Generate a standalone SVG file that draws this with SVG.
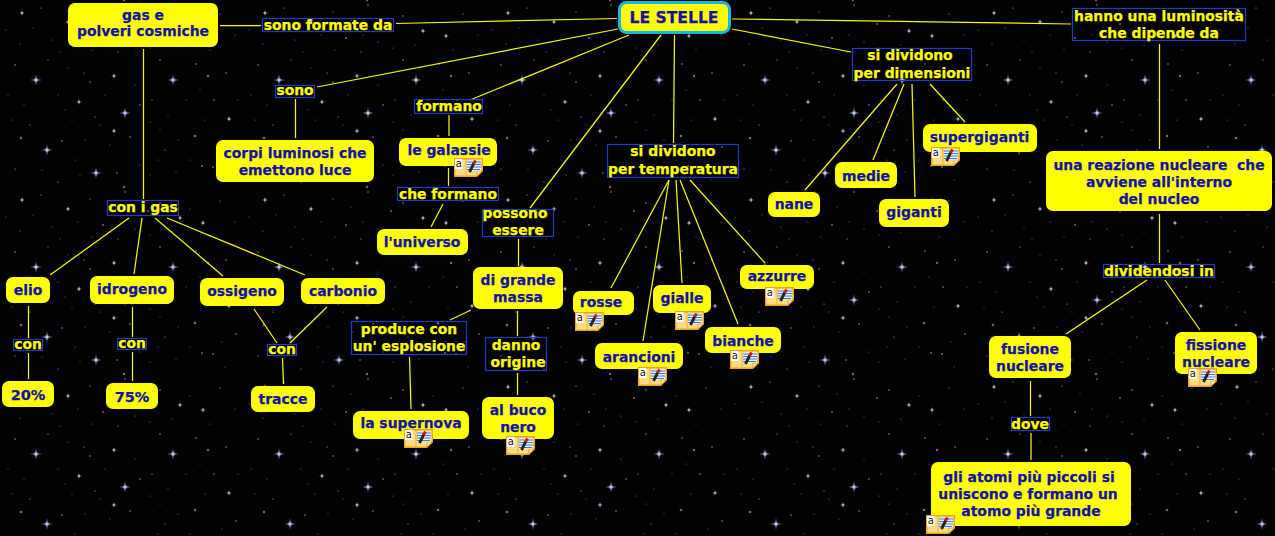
<svg xmlns="http://www.w3.org/2000/svg" width="1275" height="536" viewBox="0 0 1275 536">
<style>
text{font-family:"DejaVu Sans","Liberation Sans",sans-serif;font-weight:700;font-size:13.9px;text-anchor:middle;stroke-width:.25px}
.n rect{fill:#ffff00;stroke:none}
.n text{fill:#1212a8;stroke:#1212a8}
.l rect{fill:none;stroke:#1f3cc4;stroke-width:1.2}
.l text{fill:#ffff00;stroke:#ffff00}
#connectors line{stroke:#f6f600;stroke-width:1.25;fill:none}
.d{fill:#77778a}.e{fill:#a8a8b8}.r{fill:#8e5a60}
</style>
<defs>
<radialGradient id="glow"><stop offset="0" stop-color="#fff"/><stop offset=".4" stop-color="#b8c8ff" stop-opacity=".65"/><stop offset="1" stop-color="#7088ff" stop-opacity="0"/></radialGradient>
<g id="st"><circle r="3" fill="url(#glow)"/><path d="M0-6 .5-.5 6 0 .5.5 0 6-.5.5-6 0-.5-.5Z" fill="#c4d0ff"/></g>
<g id="sm"><circle r="1.4" fill="#d0d0dc" fill-opacity=".8"/><path d="M0-3.5.3-.3 3.5 0 .3.3 0 3.5-.3.3-3.5 0-.3-.3Z" fill="#9c9cac"/></g>
<pattern id="sky" width="243" height="187" patternUnits="userSpaceOnUse">
<rect width="243" height="187" fill="#020204"/>
<use href="#st" x="36" y="80"/><use href="#st" x="173" y="80"/><use href="#st" x="125" y="113"/><use href="#st" x="47" y="150"/><use href="#st" x="96" y="173"/>
<use href="#sm" x="79" y="102"/><use href="#sm" x="114" y="76"/><use href="#sm" x="229" y="119"/><use href="#sm" x="180" y="31"/><use href="#sm" x="22" y="13"/><use href="#sm" x="114" y="131"/><use href="#sm" x="203" y="36"/><use href="#sm" x="68" y="22"/>
<g class="r"><circle cx="21" cy="138" r="1.3"/><circle cx="195" cy="136" r="1.3"/><circle cx="124" cy="187" r="1.2"/><circle cx="124" cy="0" r="1.2"/><circle cx="208" cy="76" r="1.2"/><circle cx="202" cy="166" r="1"/><circle cx="103" cy="38" r="1"/><circle cx="148" cy="24" r="1"/></g>
<g class="e"><circle cx="15" cy="65" r=".7"/><circle cx="48" cy="60" r=".6"/><circle cx="84" cy="73" r=".6"/><circle cx="90" cy="82" r=".7"/><circle cx="118" cy="52" r=".6"/><circle cx="140" cy="105" r=".7"/><circle cx="152" cy="100" r=".6"/><circle cx="160" cy="60" r=".7"/><circle cx="196" cy="64" r=".7"/><circle cx="226" cy="73" r=".7"/><circle cx="214" cy="100" r=".7"/><circle cx="30" cy="125" r=".6"/><circle cx="62" cy="141" r=".7"/><circle cx="95" cy="117" r=".6"/><circle cx="130" cy="137" r=".7"/><circle cx="165" cy="150" r=".6"/><circle cx="236" cy="147" r=".7"/><circle cx="213" cy="167" r=".8"/><circle cx="15" cy="169" r=".6"/><circle cx="58" cy="182" r=".6"/><circle cx="117" cy="173" r=".7"/><circle cx="41" cy="8" r=".6"/><circle cx="90" cy="12" r=".6"/><circle cx="125" cy="5" r=".7"/><circle cx="160" cy="16" r=".7"/><circle cx="220" cy="14" r=".6"/></g>
<g class="d"><circle cx="6" cy="30" r=".5"/><circle cx="20" cy="44" r=".6"/><circle cx="33" cy="28" r=".5"/><circle cx="52" cy="40" r=".5"/><circle cx="60" cy="52" r=".5"/><circle cx="78" cy="35" r=".5"/><circle cx="92" cy="50" r=".5"/><circle cx="108" cy="20" r=".5"/><circle cx="120" cy="35" r=".5"/><circle cx="135" cy="42" r=".6"/><circle cx="150" cy="48" r=".5"/><circle cx="172" cy="45" r=".5"/><circle cx="190" cy="22" r=".5"/><circle cx="210" cy="50" r=".5"/><circle cx="235" cy="35" r=".5"/><circle cx="8" cy="95" r=".5"/><circle cx="24" cy="105" r=".5"/><circle cx="58" cy="95" r=".5"/><circle cx="65" cy="110" r=".5"/><circle cx="72" cy="120" r=".5"/><circle cx="105" cy="95" r=".5"/><circle cx="110" cy="145" r=".5"/><circle cx="100" cy="125" r=".5"/><circle cx="150" cy="122" r=".5"/><circle cx="160" cy="130" r=".5"/><circle cx="168" cy="115" r=".5"/><circle cx="186" cy="100" r=".5"/><circle cx="205" cy="120" r=".5"/><circle cx="238" cy="100" r=".5"/><circle cx="42" cy="170" r=".5"/><circle cx="75" cy="160" r=".5"/><circle cx="80" cy="175" r=".5"/><circle cx="140" cy="165" r=".5"/><circle cx="150" cy="175" r=".5"/><circle cx="158" cy="160" r=".5"/><circle cx="176" cy="172" r=".5"/><circle cx="190" cy="160" r=".5"/><circle cx="225" cy="180" r=".5"/><circle cx="12" cy="120" r=".5"/><circle cx="85" cy="140" r=".5"/><circle cx="135" cy="85" r=".5"/><circle cx="200" cy="90" r=".5"/><circle cx="222" cy="155" r=".5"/><circle cx="178" cy="140" r=".5"/><circle cx="68" cy="68" r=".5"/></g>
</pattern>
<g id="note">
<path d="M.7.7H28.3V13L22.8 18.3H.7Z" fill="#fddc84" stroke="#eea41c" stroke-width="1.4"/>
<path d="M23 18V13H28Z" fill="#fff2c0" stroke="#eea41c"/>
<path d="M12 1V18" stroke="#eea41c" stroke-width=".8"/>
<rect x="1" y="1" width="7.5" height="10" fill="#fff"/>
<rect x="13" y="2.500" width="14" height="10" fill="#eef4ff"/>
<path d="M13 4H27M13 6.500H27M13 9H27M13 11.500H26" stroke="#3a78d8" stroke-width="1.100" fill="none"/>
<path d="M15.500 14 20 5" stroke="#2a2418" stroke-width="2.800"/>
<path d="M19.500 6 21.500 2.500" stroke="#b82020" stroke-width="2.800"/>
<text x="4.700" y="9" style="font-size:10px;font-weight:400;stroke:none;fill:#101010">a</text>
</g>
</defs>
<rect id="background" width="1275" height="536" fill="url(#sky)"/>
<g id="connectors">
<line x1="220" y1="25.5" x2="261" y2="25.5"/><line x1="396" y1="23.5" x2="617" y2="18.5"/>
<line x1="317" y1="87" x2="618" y2="29"/><line x1="629" y1="35" x2="470" y2="100"/>
<line x1="661" y1="35" x2="530" y2="208"/><line x1="674.5" y1="35" x2="673.5" y2="143"/>
<line x1="732" y1="29" x2="851" y2="52"/><line x1="732" y1="19" x2="1071" y2="24"/>
<line x1="295.5" y1="99" x2="295.5" y2="138"/><line x1="449" y1="115" x2="449" y2="136"/>
<line x1="448.5" y1="168" x2="448.5" y2="186"/><line x1="443" y1="204" x2="431" y2="227"/>
<line x1="518.5" y1="239" x2="518.5" y2="266"/><line x1="471" y1="310" x2="450" y2="320"/>
<line x1="517.5" y1="311" x2="517.5" y2="336"/><line x1="517.5" y1="373" x2="517.5" y2="395"/>
<line x1="409.5" y1="357" x2="411" y2="409"/>
<line x1="143.5" y1="49" x2="143.5" y2="199"/>
<line x1="129" y1="218" x2="50" y2="275"/><line x1="142" y1="218" x2="134" y2="274"/>
<line x1="155" y1="218" x2="223" y2="276"/><line x1="167" y1="218" x2="305" y2="275"/>
<line x1="28.5" y1="306" x2="28.5" y2="338"/><line x1="28.5" y1="353" x2="28.5" y2="379"/>
<line x1="132.5" y1="307" x2="132.5" y2="337"/><line x1="132.5" y1="352" x2="132.5" y2="381"/>
<line x1="254" y1="309" x2="277" y2="343"/><line x1="327" y1="307" x2="290" y2="343"/><line x1="282.5" y1="358" x2="283.5" y2="384"/>
<line x1="669" y1="180" x2="611" y2="288"/><line x1="669" y1="180" x2="643" y2="341"/>
<line x1="676" y1="180" x2="682" y2="283"/><line x1="680" y1="180" x2="738" y2="324"/><line x1="690" y1="180" x2="765" y2="263"/>
<line x1="897" y1="84" x2="805" y2="190"/><line x1="904" y1="84" x2="873" y2="160"/>
<line x1="912" y1="84" x2="915" y2="197"/><line x1="930" y1="84" x2="965" y2="122"/>
<line x1="1159.5" y1="44" x2="1159.5" y2="149"/><line x1="1159.5" y1="214" x2="1159.5" y2="263"/>
<line x1="1147" y1="280" x2="1066" y2="334"/><line x1="1165" y1="280" x2="1200" y2="330"/>
<line x1="1030.5" y1="381" x2="1030.5" y2="416"/><line x1="1031" y1="433" x2="1031" y2="460"/>
</g>
<g id="n-stelle" class="n"><rect x="619.5" y="2.5" width="110" height="30" rx="7" style="stroke:#14b8e0;stroke-width:3"/><text x="674" y="23" style="font-size:15.6px">LE STELLE</text></g>
<g id="n-gas" class="n"><rect x="68" y="3" width="150" height="44" rx="7"/><text x="143" y="20">gas e</text><text x="143" y="36">polveri cosmiche</text></g>
<g id="n-corpi" class="n"><rect x="216" y="140" width="158" height="42" rx="7"/><text x="295" y="158">corpi luminosi che</text><text x="295" y="175">emettono luce</text></g>
<g id="n-galassie" class="n"><rect x="399" y="138" width="98" height="28" rx="7"/><text x="449" y="155">le galassie</text><use href="#note" x="454" y="158"/></g>
<g id="n-universo" class="n"><rect x="377" y="229" width="91" height="26" rx="7"/><text x="422" y="247">l'universo</text></g>
<g id="n-elio" class="n"><rect x="6" y="277" width="44" height="26" rx="7"/><text x="28" y="295">elio</text></g>
<g id="n-idrogeno" class="n"><rect x="90" y="276" width="84" height="28" rx="7"/><text x="132" y="294">idrogeno</text></g>
<g id="n-ossigeno" class="n"><rect x="200" y="278" width="84" height="28" rx="7"/><text x="242" y="296">ossigeno</text></g>
<g id="n-carbonio" class="n"><rect x="301" y="278" width="84" height="26" rx="7"/><text x="343" y="296">carbonio</text></g>
<g id="n-20" class="n"><rect x="2" y="381" width="52" height="26" rx="7"/><text x="28" y="400" style="font-size:14.5px">20%</text></g>
<g id="n-75" class="n"><rect x="106" y="383" width="52" height="26" rx="7"/><text x="132" y="402" style="font-size:14.5px">75%</text></g>
<g id="n-tracce" class="n"><rect x="251" y="386" width="64" height="26" rx="7"/><text x="283" y="404">tracce</text></g>
<g id="n-massa" class="n"><rect x="473" y="267" width="90" height="42" rx="7"/><text x="518" y="285">di grande</text><text x="518" y="302">massa</text></g>
<g id="n-supernova" class="n"><rect x="353" y="411" width="116" height="28" rx="7"/><text x="411" y="428">la supernova</text><use href="#note" x="404" y="429"/></g>
<g id="n-buco" class="n"><rect x="482" y="397" width="72" height="42" rx="7"/><text x="518" y="415">al buco</text><text x="518" y="432">nero</text><use href="#note" x="506" y="436"/></g>
<g id="n-rosse" class="n"><rect x="573" y="291" width="61" height="24" rx="7"/><text x="601" y="307">rosse</text><use href="#note" x="575" y="312"/></g>
<g id="n-arancioni" class="n"><rect x="595" y="343" width="88" height="26" rx="7"/><text x="639" y="362">arancioni</text><use href="#note" x="638" y="367"/></g>
<g id="n-gialle" class="n"><rect x="653" y="285" width="58" height="28" rx="7"/><text x="682" y="303">gialle</text><use href="#note" x="675" y="311"/></g>
<g id="n-bianche" class="n"><rect x="705" y="327" width="76" height="26" rx="7"/><text x="743" y="346">bianche</text><use href="#note" x="730" y="350"/></g>
<g id="n-azzurre" class="n"><rect x="740" y="265" width="74" height="24" rx="7"/><text x="777" y="281">azzurre</text><use href="#note" x="765" y="287"/></g>
<g id="n-nane" class="n"><rect x="768" y="192" width="52" height="25" rx="7"/><text x="794" y="209">nane</text></g>
<g id="n-medie" class="n"><rect x="835" y="162" width="62" height="26" rx="7"/><text x="866" y="181">medie</text></g>
<g id="n-giganti" class="n"><rect x="879" y="199" width="70" height="28" rx="7"/><text x="914" y="217">giganti</text></g>
<g id="n-supergiganti" class="n"><rect x="923" y="124" width="114" height="28" rx="7"/><text x="979.5" y="142">supergiganti</text><use href="#note" x="931" y="147"/></g>
<g id="n-reazione" class="n"><rect x="1046" y="151" width="226" height="60" rx="7"/><text x="1159" y="170" xml:space="preserve">una reazione nucleare  che</text><text x="1159" y="187">avviene all'interno</text><text x="1159" y="204">del nucleo</text></g>
<g id="n-fusione" class="n"><rect x="989" y="336" width="82" height="42" rx="7"/><text x="1030" y="354">fusione</text><text x="1030" y="371">nucleare</text></g>
<g id="n-fissione" class="n"><rect x="1175" y="332" width="82" height="42" rx="7"/><text x="1216" y="350">fissione</text><text x="1216" y="367">nucleare</text><use href="#note" x="1188" y="368"/></g>
<g id="n-atomi" class="n"><rect x="931" y="462" width="200" height="64" rx="7"/><text x="1029" y="482">gli atomi più piccoli si</text><text x="1028" y="499">uniscono e formano un</text><text x="1031" y="516">atomo più grande</text><use href="#note" x="926" y="515"/></g>
<g id="l-formate" class="l"><rect x="262.5" y="18.5" width="131" height="13"/><text x="328" y="30">sono formate da</text></g>
<g id="l-sono" class="l"><rect x="275.5" y="85.5" width="39" height="12"/><text x="295" y="95">sono</text></g>
<g id="l-formano" class="l"><rect x="414.5" y="99.5" width="68" height="14"/><text x="449" y="111">formano</text></g>
<g id="l-cheformano" class="l"><rect x="397.5" y="187.5" width="101" height="13"/><text x="448" y="199">che formano</text></g>
<g id="l-possono" class="l"><rect x="482.5" y="209.5" width="71" height="27"/><text x="515" y="218">possono</text><text x="518" y="235">essere</text></g>
<g id="l-congas" class="l"><rect x="107.5" y="200.5" width="71" height="15"/><text x="143" y="212">con i gas</text></g>
<g id="l-con1" class="l"><rect x="13.5" y="339.5" width="29" height="11"/><text x="28" y="349">con</text></g>
<g id="l-con2" class="l"><rect x="117.5" y="338.5" width="29" height="11"/><text x="132" y="348">con</text></g>
<g id="l-con3" class="l"><rect x="267.5" y="344.5" width="29" height="11"/><text x="282" y="354">con</text></g>
<g id="l-produce" class="l"><rect x="351.5" y="321.5" width="115" height="33"/><text x="409" y="334">produce con</text><text x="409" y="351">un' esplosione</text></g>
<g id="l-danno" class="l"><rect x="485.5" y="337.5" width="61" height="33"/><text x="516" y="350">danno</text><text x="518" y="367">origine</text></g>
<g id="l-temp" class="l"><rect x="607.5" y="144.5" width="131" height="33"/><text x="673" y="156">si dividono</text><text x="673" y="174">per temperatura</text></g>
<g id="l-dim" class="l"><rect x="852.5" y="48.5" width="119" height="32"/><text x="910" y="60">si dividono</text><text x="912" y="78">per dimensioni</text></g>
<g id="l-hanno" class="l"><rect x="1072.5" y="8.5" width="173" height="32"/><text x="1159" y="21">hanno una luminosità</text><text x="1159" y="38">che dipende da</text></g>
<g id="l-dividendosi" class="l"><rect x="1103.5" y="264.5" width="111" height="13"/><text x="1159" y="276">dividendosi in</text></g>
<g id="l-dove" class="l"><rect x="1011.5" y="417.5" width="38" height="13"/><text x="1030" y="429">dove</text></g>
</svg>
